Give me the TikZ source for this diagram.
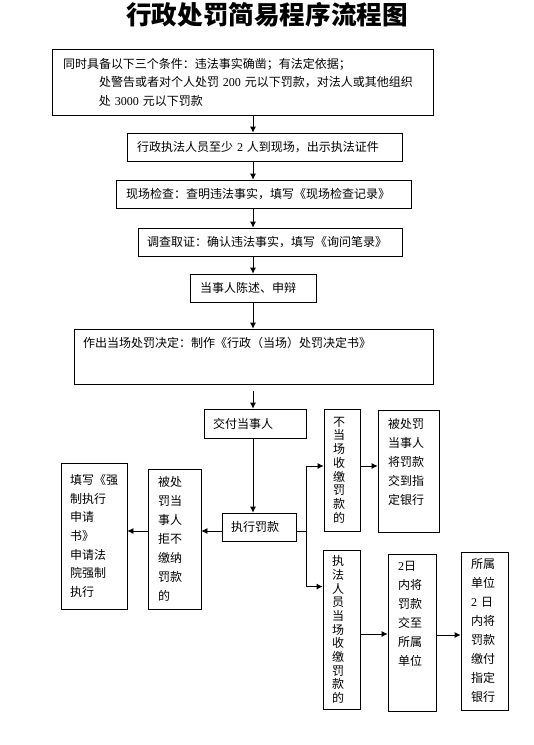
\documentclass[tikz,border=0pt]{standalone}
\usepackage{fontspec}
\setmainfont{Noto Sans CJK SC}
\newfontfamily\numfont{Liberation Serif}
\usetikzlibrary{arrows.meta}

\begin{document}
\begin{tikzpicture}[
  block/.style={rectangle, draw, inner xsep=10pt, inner ysep=0pt, align=left, font=\fontsize{12}{19}\selectfont},
  charcol/.style={block, inner xsep=9pt, font=\fontsize{12}{13.7}\selectfont},
  >={Latex[length=6pt,width=6pt]},
  line width=0.8pt,
  node distance=2cm
]
\useasboundingbox (0,0) rectangle (534pt,-745pt);
\node[font=\fontsize{25.6}{30}\selectfont\bfseries] (title) at (267pt,-15pt) {行政处罚简易程序流程图};
\node[block, below of=title, node distance=67pt, xshift=-24.5pt, inner xsep=11pt, text width=359pt, minimum height=66pt, font=\fontsize{12}{18.5}\selectfont] (cond) {同时具备以下三个条件：违法事实确凿；有法定依据；\\\hspace*{36pt}处警告或者对个人处罚 {\numfont 200} 元以下罚款，对法人或其他组织\\\hspace*{36pt}处 {\numfont 3000} 元以下罚款};
\node[block, below of=cond, node distance=65pt, xshift=22pt, text width=255pt, minimum height=28pt] (staff) {行政执法人员至少 {\numfont 2} 人到现场，出示执法证件};
\node[block, below of=staff, node distance=47pt, xshift=-1pt, text width=275pt, minimum height=28pt] (inspect) {现场检查：查明违法事实，填写《现场检查记录》};
\node[block, below of=inspect, node distance=48pt, xshift=6.5pt, inner xsep=9pt, text width=246pt, minimum height=28pt] (survey) {调查取证：确认违法事实，填写《询问笔录》};
\node[block, below of=survey, node distance=46pt, xshift=-17pt, text width=106pt, minimum height=28pt] (defend) {当事人陈述、申辩};
\node[block, below of=defend, node distance=68.5pt, xshift=0.5pt, inner xsep=9pt, text width=341pt, minimum height=55pt, text height=9pt, text depth=27pt] (decide) {作出当场处罚决定：制作《行政（当场）处罚决定书》};
\node[block, below of=decide, node distance=67pt, xshift=1.5pt, inner xsep=9pt, text width=84pt, minimum height=29pt] (deliver) {交付当事人};
\node[block, below of=deliver, node distance=103.5pt, xshift=4pt, inner xsep=9pt, text width=56pt, minimum height=28pt] (exec) {执行罚款};
% left branch
\node[block, left of=exec, node distance=84.5pt, yshift=-12pt, text width=33pt, minimum height=140pt] (refuse) {被处\\罚当\\事人\\拒不\\缴纳\\罚款\\的};
\node[block, left of=refuse, node distance=80.5pt, yshift=3pt, inner xsep=9pt, text width=48pt, minimum height=146pt, font=\fontsize{12}{18.7}\selectfont] (court) {填写《强\\制执行\\申请\\书》\\申请法\\院强制\\执行};
% right branch
\node[charcol, right of=exec, node distance=83pt, yshift=57pt, text width=18pt, minimum height=122pt] (nosite) {不\\当\\场\\收\\缴\\罚\\款\\的};
\node[block, right of=nosite, node distance=66.5pt, yshift=-1pt, text width=41pt, minimum height=122pt] (bank1) {被处罚\\当事人\\将罚款\\交到指\\定银行\\~};
\node[charcol, right of=exec, node distance=82.5pt, yshift=-102.5pt, text width=19pt, minimum height=159pt] (onsite) {执\\法\\人\\员\\当\\场\\收\\缴\\罚\\款\\的};
\node[block, right of=onsite, node distance=70.5pt, yshift=-3pt, text width=28pt, minimum height=157pt] (unit) {{\numfont 2}日\\内将\\罚款\\交至\\所属\\单位\\~\\~};
\node[block, right of=unit, node distance=72.5pt, yshift=1.5pt, text width=27pt, minimum height=158pt] (bank2) {所属\\单位\\{\numfont 2} 日\\内将\\罚款\\缴付\\指定\\银行};

\draw[->] (cond.south -| defend) -- (staff.north -| defend);
\draw[->] (staff.south -| defend) -- (inspect.north -| defend);
\draw[->] (inspect.south -| defend) -- (survey.north -| defend);
\draw[->] (survey.south -| defend) -- (defend.north);
\draw[->] (defend.south) -- (decide.north -| defend);
\draw[->,shorten <=7pt] (decide.south -| defend) -- (deliver.north -| defend);
\draw[->] (deliver.south -| defend) -- (exec.north -| defend);
\draw ([yshift=-4pt]exec.east) -- ++(10pt,0) coordinate (fork);
\draw[->] (fork) |- ([yshift=4pt]nosite.west);
\draw[->] (fork) |- ([yshift=-37pt]onsite.north west);
\draw[->] ([yshift=4pt]nosite.east) -- ([yshift=4pt]nosite.east -| bank1.west);
\draw[->] ([yshift=-4.5pt]onsite.east) -- ([yshift=-4.5pt]onsite.east -| unit.west);
\draw[->] ([yshift=-2.5pt]unit.east) -- ([yshift=-2.5pt]unit.east -| bank2.west);
\draw[->] ([yshift=-4pt]exec.west) -- ([yshift=-4pt]exec.west -| refuse.east);
\draw[->] ([yshift=-4pt]exec.west -| refuse.west) -- ([yshift=-4pt]exec.west -| court.east);
\end{tikzpicture}
\end{document}
